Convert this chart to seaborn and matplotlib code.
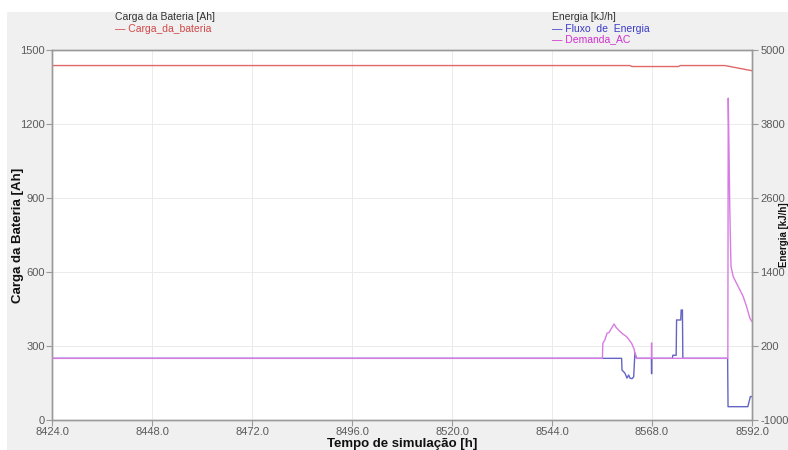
import matplotlib
matplotlib.use("Agg")
import matplotlib.pyplot as plt
import matplotlib.patches as mpatches
import seaborn as sns

# Simulation time [h] and battery charge [Ah]
carga_t = [8424.0, 8562.7, 8563.2, 8574.3, 8574.8, 8585.5, 8592.0]
carga_v = [1437, 1437, 1433, 1433, 1437, 1437, 1416]

# AC demand [kJ/h]
demanda_t = [8424.0, 8556.1, 8556.2, 8556.7, 8557.2, 8557.7, 8558.2, 8558.9, 8559.4,
             8560.1, 8560.8, 8561.9, 8562.5, 8563.1, 8563.7, 8563.9, 8564.3,
             8567.85, 8567.9, 8567.95, 8586.2, 8586.3, 8586.5, 8586.65, 8586.85,
             8586.96, 8587.5, 8588.3, 8589.1, 8589.9, 8590.7, 8591.5, 8592.0]
demanda_v = [0, 0, 244, 300, 406, 420, 480, 557, 500,
             450, 406, 351, 300, 245, 150, 87, 0,
             0, 250, 0, 0, 4220, 3300, 2500, 1800,
             1490, 1324, 1216, 1109, 1000, 838, 649, 595]

# Energy flow [kJ/h]
fluxo_t = [8424.0, 8560.7, 8560.8, 8561.5, 8562.0, 8562.4, 8562.7, 8563.2, 8563.6,
           8563.9, 8564.3, 8567.85, 8567.9, 8567.95, 8572.9, 8573.0, 8573.8, 8573.9,
           8574.9, 8575.0, 8575.3, 8575.4, 8586.15, 8586.2, 8586.25, 8591.0, 8591.6, 8592.0]
fluxo_v = [0, 0, -190, -240, -320, -270, -320, -330, -300,
           87, 0, 0, -250, 0, 0, 50, 50, 622,
           622, 784, 784, 0, 0, -400, -784, -784, -620, -620]

x_ticks = [8424, 8448, 8472, 8496, 8520, 8544, 8568, 8592]
y_left_ticks = [0, 300, 600, 900, 1200, 1500]
y_right_ticks = [-1000, 200, 1400, 2600, 3800, 5000]

sns.set_theme(style="white")
plt.rcParams["font.family"] = ["Liberation Sans", "DejaVu Sans"]
plt.rcParams["axes.unicode_minus"] = False

W, H = 788, 450
fig = plt.figure(figsize=(W / 100, H / 100), dpi=100, facecolor="white")
fig.patches.append(mpatches.Rectangle((7 / W, 0), 1 - 7 / W, 1 - 12 / H,
                                      transform=fig.transFigure, facecolor="#f0f0f0",
                                      edgecolor="none", zorder=-10))

ax = fig.add_axes([52 / W, 30 / H, 700 / W, 370 / H])
ax.set_facecolor("white")
ax2 = ax.twinx()

red = "#e06868"
blue = "#6464c4"
magenta = "#d77ce3"

sns.lineplot(x=carga_t, y=carga_v, ax=ax, color=red, lw=1.0,
             estimator=None, sort=False)
sns.lineplot(x=demanda_t, y=demanda_v, ax=ax2, color=magenta, lw=1.0,
             estimator=None, sort=False, zorder=3)
sns.lineplot(x=fluxo_t, y=fluxo_v, ax=ax2, color=blue, lw=1.0,
             estimator=None, sort=False, zorder=2)

ax.set_xlim(8424, 8592)
ax.set_ylim(0, 1500)
ax2.set_ylim(-1000, 5000)
ax.set_xticks(x_ticks)
ax.set_xticklabels([f"{t:.1f}" for t in x_ticks])
ax.set_yticks(y_left_ticks)
ax2.set_yticks(y_right_ticks)
ax2.set_yticklabels([str(v) for v in y_right_ticks])

ax.grid(True, color="#ebebeb", lw=0.7)
ax2.grid(False)

tick_col = "#5a5a5a"
for a in (ax, ax2):
    for s in a.spines.values():
        s.set_color("#9a9a9a")
        s.set_linewidth(1.0)
    a.tick_params(axis="both", which="both", direction="out", length=4, width=0.8,
                  color="#9a9a9a", labelcolor=tick_col, labelsize=8, pad=1)
ax.tick_params(axis="y", left=True, right=False)
ax.tick_params(axis="x", bottom=True)
ax2.tick_params(axis="y", right=True, left=False, pad=2)

ax.set_xlabel("Tempo de simulação [h]", fontsize=9.5, fontweight="bold",
              color="#111111", labelpad=0.5)
ax.set_ylabel("Carga da Bateria [Ah]", fontsize=9.5, fontweight="bold",
              color="#111111", labelpad=-3)
ax2.set_ylabel("Energia [kJ/h]", fontsize=7, fontweight="bold", color="#111111")
# right-hand label squeezed against the figure edge, clear of the tick labels
ax2.yaxis.set_label_coords((779.5 - 52) / 700, 0.5)
ax2.yaxis.label.set_horizontalalignment("center")
ax2.yaxis.label.set_verticalalignment("top")

# Legend headers above the plot
fig.text(115 / W, 1 - 17 / H, "Carga da Bateria [Ah]", fontsize=7.5,
         color="#333333", va="center", ha="left")
fig.text(115 / W, 1 - 29 / H, "— Carga_da_bateria", fontsize=7.5,
         color="#d04848", va="center", ha="left")
fig.text(552 / W, 1 - 17 / H, "Energia [kJ/h]", fontsize=7.5,
         color="#333333", va="center", ha="left")
fig.text(552 / W, 1 - 29 / H, "— Fluxo  de  Energia", fontsize=7.5,
         color="#3a3ac8", va="center", ha="left")
fig.text(552 / W, 1 - 39 / H, "— Demanda_AC", fontsize=7.5,
         color="#d030d0", va="center", ha="left")

fig.savefig("out.png", dpi=100, facecolor=fig.get_facecolor())
